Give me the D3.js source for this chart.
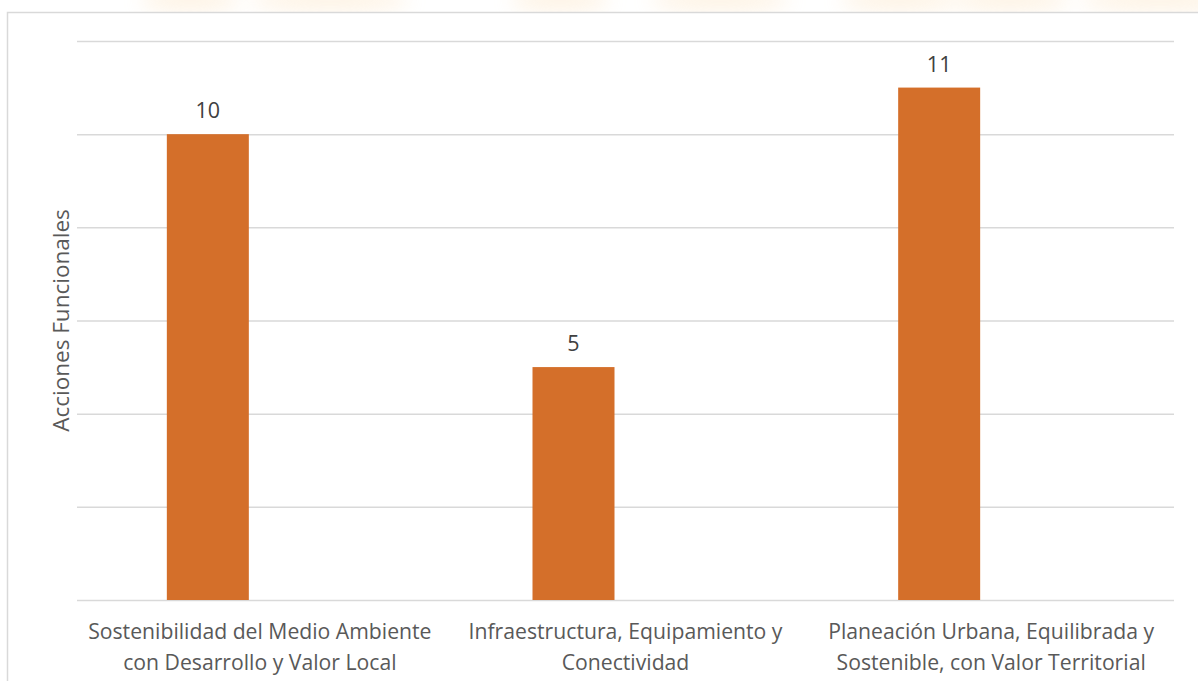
<!DOCTYPE html>
<html>
<head>
<meta charset="utf-8">
<script src="https://cdn.jsdelivr.net/npm/d3@7"></script>
<style>
  html, body { margin: 0; padding: 0; background: #ffffff; }
  svg { display: block; }
</style>
</head>
<body>
<svg id="chart" width="1198" height="681"></svg>
<script>
// ---- data ----
const categories = [
  ["Sostenibilidad del Medio Ambiente", "con Desarrollo y Valor Local"],
  ["Infraestructura, Equipamiento y", "Conectividad"],
  ["Planeación Urbana, Equilibrada y", "Sostenible, con Valor Territorial"]
];
const values = [10, 5, 11];
const seriesNames = ["Acciones Funcionales", "(vacía)"];
const yTicks = [0, 2, 4, 6, 8, 10, 12];
const yTitle = "Acciones Funcionales";

// ---- layout ----
const W = 1198, H = 681;
const plot = { left: 77, right: 1174, top: 41, bottom: 600 };
const font = "'Open Sans', 'Noto Sans', sans-serif";
const textColor = "#595959";
const gridColor = "#d9d9d9";
const barColor = "#d46f2a";

const svg = d3.select("#chart");

// faint watermark strip above the chart frame
const defs = svg.append("defs");
defs.append("filter").attr("id", "blur").attr("x", "-50%").attr("y", "-200%").attr("width", "200%").attr("height", "500%")
  .append("feGaussianBlur").attr("stdDeviation", 10);
const wm = svg.append("g").attr("filter", "url(#blur)").attr("opacity", 0.35);
[[190, 50], [330, 80], [560, 50], [720, 70], [900, 60], [1010, 60], [1160, 80]].forEach(([cx, rx]) => {
  wm.append("ellipse").attr("cx", cx).attr("cy", 0).attr("rx", rx).attr("ry", 10).attr("fill", "#fbd9a8");
});

// chart frame
svg.append("rect")
  .attr("x", 7.5).attr("y", 12.5).attr("width", W + 20).attr("height", H + 20)
  .attr("fill", "#ffffff").attr("stroke", gridColor).attr("stroke-width", 1.5);

const x = d3.scaleBand()
  .domain(categories.map((d, i) => i))
  .range([plot.left, plot.right])
  .paddingInner(0).paddingOuter(0);

const y = d3.scaleLinear().domain([0, 12]).range([plot.bottom, plot.top]);

// sub-band for clustered series (second series is empty)
const xSub = d3.scaleBand().domain(seriesNames).range([-104, 104]);
const barWidth = 82;

// gridlines via axis
const yAxis = d3.axisLeft(y).tickValues(yTicks).tickSize(-(plot.right - plot.left)).tickFormat("");
const gy = svg.append("g").attr("transform", `translate(${plot.left},0)`).call(yAxis);
gy.select(".domain").remove();
gy.selectAll(".tick line").attr("stroke", gridColor).attr("stroke-width", 1.5);

// bars
const bars = svg.append("g");
bars.selectAll("rect")
  .data(values)
  .join("rect")
  .attr("x", (d, i) => x(i) + x.bandwidth() / 2 + xSub(seriesNames[0]) + (xSub.bandwidth() - barWidth) / 2)
  .attr("width", barWidth)
  .attr("y", d => y(d))
  .attr("height", d => y(0) - y(d))
  .attr("fill", barColor);

// value labels
svg.append("g").selectAll("text")
  .data(values)
  .join("text")
  .attr("x", (d, i) => x(i) + x.bandwidth() / 2 + xSub(seriesNames[0]) + xSub.bandwidth() / 2)
  .attr("y", d => y(d) - 16)
  .attr("text-anchor", "middle")
  .attr("font-family", font)
  .attr("font-size", 21.5)
  .attr("fill", "#404040")
  .text(d => d);

// category labels
const xAxis = d3.axisBottom(x).tickSize(0).tickFormat("");
const gx = svg.append("g").attr("transform", `translate(0,${plot.bottom})`).call(xAxis);
gx.select(".domain").remove();
gx.selectAll(".tick").each(function(d) {
  const t = d3.select(this).append("text")
    .attr("text-anchor", "middle")
    .attr("font-family", font)
    .attr("font-size", 21.2)
    .attr("fill", textColor);
  categories[d].forEach((line, k) => {
    t.append("tspan").attr("x", 0).attr("y", 39 + k * 31).text(line);
  });
});

// y title
svg.append("text")
  .attr("transform", `translate(69,${(plot.top + plot.bottom) / 2}) rotate(-90)`)
  .attr("text-anchor", "middle")
  .attr("font-family", font)
  .attr("font-size", 22.5)
  .attr("fill", textColor)
  .text(yTitle);
</script>
</body>
</html>
